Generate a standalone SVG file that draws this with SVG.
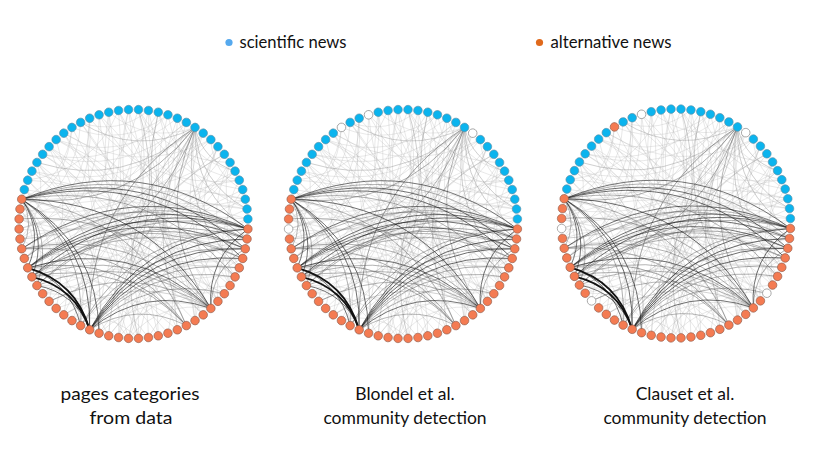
<svg xmlns="http://www.w3.org/2000/svg" xmlns:xlink="http://www.w3.org/1999/xlink" width="828" height="466" viewBox="0 0 828 466">
<style>
.b{fill:#0bb4ee;stroke:#5d8fa6;stroke-width:.6}
.o{fill:#f47b52;stroke:#8e5c4c;stroke-width:.6}
.w{fill:#fff;stroke:#9a9a9a;stroke-width:.8}
text{font-family:Lato,"Liberation Sans",sans-serif;fill:#111}
.lg{font-size:16.5px}
.lb{font-size:17.5px;text-anchor:middle}
</style>
<defs>
<path id="i5" d="M111.79-24.78Q97.91 0 111.79 24.78"/>
<path id="i6" d="M110.6-29.63Q94.01 0 110.6 29.63"/>
<path id="i7" d="M109.2-34.43Q89.92 0 109.2 34.43"/>
<path id="i8" d="M107.59-39.16Q85.66 0 107.59 39.16"/>
<path id="i9" d="M105.78-43.82Q81.24 0 105.78 43.82"/>
<path id="i10" d="M103.77-48.39Q76.67 0 103.77 48.39"/>
<path id="i11" d="M101.56-52.87Q71.95 0 101.56 52.87"/>
<path id="i12" d="M99.16-57.25Q67.1 0 99.16 57.25"/>
<path id="i13" d="M96.57-61.52Q62.12 0 96.57 61.52"/>
<path id="i14" d="M93.79-65.67Q57.01 0 93.79 65.67"/>
<path id="i15" d="M90.84-69.7Q51.81 0 90.84 69.7"/>
<path id="i16" d="M87.71-73.6Q46.49 0 87.71 73.6"/>
<path id="i17" d="M84.42-77.36Q41.1 0 84.42 77.36"/>
<path id="i18" d="M80.96-80.96Q35.62 0 80.96 80.96"/>
<path id="i19" d="M77.36-84.42Q30.08 0 77.36 84.42"/>
<path id="i20" d="M73.6-87.71Q24.48 0 73.6 87.71"/>
<path id="i21" d="M69.7-90.84Q18.83 0 69.7 90.84"/>
<path id="i22" d="M65.67-93.79Q13.15 0 65.67 93.79"/>
<path id="i23" d="M61.52-96.57Q7.44 0 61.52 96.57"/>
<path id="i24" d="M57.25-99.16Q1.72 0 57.25 99.16"/>
<path id="i25" d="M52.87-101.56Q-4 0 52.87 101.56"/>
<path id="i26" d="M48.39-103.77Q-9.72 0 48.39 103.77"/>
<path id="i27" d="M43.82-105.78Q-15.42 0 43.82 105.78"/>
<path id="i28" d="M39.16-107.59Q-21.09 0 39.16 107.59"/>
<path id="i29" d="M34.43-109.2Q-26.72 0 34.43 109.2"/>
<path id="i30" d="M29.63-110.6Q-32.31 0 29.63 110.6"/>
<path id="i31" d="M24.78-111.79Q-37.82 0 24.78 111.79"/>
<path id="i32" d="M19.88-112.76Q-43.27 0 19.88 112.76"/>
<path id="i33" d="M14.95-113.52Q-48.62 0 14.95 113.52"/>
<path id="i34" d="M9.98-114.06Q-53.89 0 9.98 114.06"/>
<path id="i35" d="M4.99-114.39Q-59.07 0 4.99 114.39"/>
<path id="i36" d="M0-114.5Q-64.12 0 0 114.5"/>
<path id="o34" d="M9.98-114.06Q73.85 0 9.98 114.06"/>
<path id="o35" d="M4.99-114.39Q69.05 0 4.99 114.39"/>
<g id="E" fill="none">
<g stroke="#b0b0b0" stroke-opacity=".38" stroke-width=".7">
<use href="#i8" transform="rotate(22.5)"/><use href="#i21" transform="rotate(60)"/><use href="#i34" transform="rotate(97.5)"/><use href="#i18" transform="rotate(62.5)"/><use href="#i31" transform="rotate(100)"/><use href="#i15" transform="rotate(65)"/><use href="#i28" transform="rotate(102.5)"/><use href="#i12" transform="rotate(67.5)"/><use href="#i25" transform="rotate(105)"/><use href="#i9" transform="rotate(70)"/><use href="#i22" transform="rotate(107.5)"/><use href="#i35" transform="rotate(145)"/><use href="#i19" transform="rotate(110)"/><use href="#i32" transform="rotate(147.5)"/><use href="#i16" transform="rotate(112.5)"/><use href="#i29" transform="rotate(150)"/><use href="#i13" transform="rotate(115)"/><use href="#i26" transform="rotate(152.5)"/><use href="#i10" transform="rotate(117.5)"/><use href="#i23" transform="rotate(155)"/><use href="#i36" transform="rotate(192.5)"/><use href="#i20" transform="rotate(157.5)"/><use href="#i33" transform="rotate(195)"/><use href="#i17" transform="rotate(160)"/><use href="#i30" transform="rotate(197.5)"/><use href="#i14" transform="rotate(162.5)"/><use href="#i27" transform="rotate(200)"/><use href="#i11" transform="rotate(165)"/><use href="#i24" transform="rotate(202.5)"/><use href="#i8" transform="rotate(167.5)"/><use href="#i21" transform="rotate(205)"/><use href="#i34" transform="rotate(242.5)"/><use href="#i18" transform="rotate(207.5)"/><use href="#i31" transform="rotate(245)"/><use href="#i15" transform="rotate(210)"/><use href="#i28" transform="rotate(247.5)"/><use href="#i12" transform="rotate(212.5)"/><use href="#i25" transform="rotate(250)"/><use href="#i9" transform="rotate(215)"/><use href="#i22" transform="rotate(252.5)"/><use href="#i35" transform="rotate(290)"/><use href="#i19" transform="rotate(255)"/><use href="#i32" transform="rotate(292.5)"/><use href="#i16" transform="rotate(257.5)"/><use href="#i29" transform="rotate(295)"/><use href="#i13" transform="rotate(260)"/><use href="#i26" transform="rotate(297.5)"/><use href="#i10" transform="rotate(262.5)"/><use href="#i23" transform="rotate(300)"/><use href="#i36" transform="rotate(337.5)"/><use href="#i20" transform="rotate(302.5)"/><use href="#i33" transform="rotate(340)"/><use href="#i17" transform="rotate(305)"/><use href="#i30" transform="rotate(342.5)"/><use href="#i14" transform="rotate(307.5)"/><use href="#i27" transform="rotate(345)"/><use href="#i11" transform="rotate(310)"/><use href="#i24" transform="rotate(347.5)"/><use href="#i8" transform="rotate(312.5)"/><use href="#i21" transform="rotate(350)"/><use href="#i34" transform="rotate(27.5)"/><use href="#i18" transform="rotate(352.5)"/><use href="#i31" transform="rotate(30)"/><use href="#i15" transform="rotate(355)"/><use href="#i28" transform="rotate(32.5)"/><use href="#i12" transform="rotate(357.5)"/><use href="#i25" transform="rotate(35)"/><use href="#i9" transform="rotate(0)"/><use href="#i22" transform="rotate(37.5)"/><use href="#i35" transform="rotate(75)"/><use href="#i19" transform="rotate(40)"/><use href="#i32" transform="rotate(77.5)"/>
<use href="#i6" transform="rotate(17.5)"/><use href="#i17" transform="rotate(50)"/><use href="#i28" transform="rotate(82.5)"/><use href="#i8" transform="rotate(37.5)"/><use href="#i19" transform="rotate(70)"/><use href="#i30" transform="rotate(102.5)"/><use href="#i10" transform="rotate(57.5)"/><use href="#i21" transform="rotate(90)"/><use href="#i32" transform="rotate(122.5)"/><use href="#i12" transform="rotate(77.5)"/><use href="#i23" transform="rotate(110)"/><use href="#i34" transform="rotate(142.5)"/><use href="#i14" transform="rotate(97.5)"/><use href="#i25" transform="rotate(130)"/><use href="#i36" transform="rotate(162.5)"/><use href="#i16" transform="rotate(117.5)"/><use href="#i27" transform="rotate(150)"/><use href="#i7" transform="rotate(105)"/><use href="#i18" transform="rotate(137.5)"/><use href="#i29" transform="rotate(170)"/><use href="#i9" transform="rotate(125)"/><use href="#i20" transform="rotate(157.5)"/><use href="#i31" transform="rotate(190)"/><use href="#i11" transform="rotate(145)"/><use href="#i22" transform="rotate(177.5)"/><use href="#i33" transform="rotate(210)"/><use href="#i13" transform="rotate(165)"/><use href="#i24" transform="rotate(197.5)"/><use href="#i35" transform="rotate(230)"/><use href="#i15" transform="rotate(185)"/><use href="#i26" transform="rotate(217.5)"/><use href="#i6" transform="rotate(172.5)"/><use href="#i17" transform="rotate(205)"/><use href="#i28" transform="rotate(237.5)"/><use href="#i8" transform="rotate(192.5)"/><use href="#i19" transform="rotate(225)"/><use href="#i30" transform="rotate(257.5)"/><use href="#i10" transform="rotate(212.5)"/><use href="#i21" transform="rotate(245)"/><use href="#i32" transform="rotate(277.5)"/><use href="#i12" transform="rotate(232.5)"/><use href="#i23" transform="rotate(265)"/><use href="#i34" transform="rotate(297.5)"/><use href="#i14" transform="rotate(252.5)"/><use href="#i25" transform="rotate(285)"/><use href="#i36" transform="rotate(317.5)"/><use href="#i16" transform="rotate(272.5)"/><use href="#i27" transform="rotate(305)"/><use href="#i7" transform="rotate(260)"/><use href="#i18" transform="rotate(292.5)"/><use href="#i29" transform="rotate(325)"/><use href="#i9" transform="rotate(280)"/><use href="#i20" transform="rotate(312.5)"/><use href="#i31" transform="rotate(345)"/><use href="#i11" transform="rotate(300)"/><use href="#i22" transform="rotate(332.5)"/><use href="#i33" transform="rotate(5)"/><use href="#i13" transform="rotate(320)"/><use href="#i24" transform="rotate(352.5)"/><use href="#i35" transform="rotate(25)"/><use href="#i15" transform="rotate(340)"/><use href="#i26" transform="rotate(12.5)"/><use href="#i6" transform="rotate(327.5)"/><use href="#i17" transform="rotate(0)"/><use href="#i28" transform="rotate(32.5)"/><use href="#i8" transform="rotate(347.5)"/><use href="#i19" transform="rotate(20)"/><use href="#i30" transform="rotate(52.5)"/><use href="#i10" transform="rotate(7.5)"/><use href="#i21" transform="rotate(40)"/><use href="#i32" transform="rotate(72.5)"/><use href="#i12" transform="rotate(27.5)"/>
</g>
<g stroke="#8a8a8a" stroke-opacity=".5" stroke-width=".75">
<use href="#i16" transform="rotate(87.5)"/><use href="#i25" transform="rotate(345)"/><use href="#i24" transform="rotate(2.5)"/><use href="#i12" transform="rotate(332.5)"/><use href="#i32" transform="rotate(192.5)"/><use href="#i33" transform="rotate(220)"/><use href="#i29" transform="rotate(15)"/><use href="#i16" transform="rotate(342.5)"/><use href="#i26" transform="rotate(237.5)"/><use href="#i18" transform="rotate(257.5)"/><use href="#i12" transform="rotate(272.5)"/><use href="#i6" transform="rotate(317.5)"/><use href="#i10" transform="rotate(327.5)"/>
</g>
<g stroke="#555" stroke-opacity=".55" stroke-width=".75">
<use href="#o35" transform="rotate(280)"/><use href="#i26" transform="rotate(127.5)"/><use href="#i15" transform="rotate(155)"/><use href="#i9" transform="rotate(170)"/><use href="#i5" transform="rotate(180)"/><use href="#i22" transform="rotate(247.5)"/><use href="#i33" transform="rotate(110)"/><use href="#i28" transform="rotate(87.5)"/><use href="#i19" transform="rotate(110)"/><use href="#i28" transform="rotate(82.5)"/><use href="#i21" transform="rotate(100)"/><use href="#i29" transform="rotate(230)"/><use href="#i32" transform="rotate(82.5)"/><use href="#i32" transform="rotate(87.5)"/><use href="#i18" transform="rotate(67.5)"/><use href="#i10" transform="rotate(87.5)"/><use href="#i23" transform="rotate(60)"/><use href="#i21" transform="rotate(65)"/><use href="#i34" transform="rotate(27.5)"/><use href="#i17" transform="rotate(70)"/><use href="#i15" transform="rotate(75)"/><use href="#i7" transform="rotate(30)"/><use href="#i21" transform="rotate(355)"/><use href="#i20" transform="rotate(97.5)"/><use href="#i24" transform="rotate(107.5)"/><use href="#i18" transform="rotate(92.5)"/><use href="#i27" transform="rotate(115)"/><use href="#i18" transform="rotate(107.5)"/><use href="#i21" transform="rotate(115)"/><use href="#i29" transform="rotate(75)"/><use href="#i28" transform="rotate(77.5)"/><use href="#i27" transform="rotate(85)"/>
</g>
<g stroke="#1e1e1e" stroke-opacity=".68" stroke-width=".85">
<use href="#o34" transform="rotate(277.5)"/><use href="#i36" transform="rotate(102.5)"/><use href="#i35" transform="rotate(105)"/><use href="#i29" transform="rotate(120)"/><use href="#i16" transform="rotate(152.5)"/><use href="#i17" transform="rotate(150)"/><use href="#i7" transform="rotate(175)"/><use href="#i8" transform="rotate(172.5)"/><use href="#i7" transform="rotate(130)"/><use href="#i8" transform="rotate(137.5)"/><use href="#i31" transform="rotate(80)"/><use href="#i30" transform="rotate(82.5)"/><use href="#i29" transform="rotate(85)"/><use href="#i22" transform="rotate(102.5)"/><use href="#i30" transform="rotate(77.5)"/><use href="#i22" transform="rotate(57.5)"/><use href="#i21" transform="rotate(60)"/><use href="#i20" transform="rotate(62.5)"/><use href="#i19" transform="rotate(65)"/><use href="#i13" transform="rotate(80)"/><use href="#i9" transform="rotate(25)"/><use href="#i33" transform="rotate(85)"/>
</g>
<g stroke="#111" stroke-width="1.8">
<use href="#i9" transform="rotate(135)"/><use href="#i8" transform="rotate(132.5)"/>
</g>
</g>
</defs>
<rect width="828" height="466" fill="#fff"/>
<g id="legend">
<g id="legend-scientific"><circle cx="229" cy="42.5" r="3.6" fill="#55a9ee"/><text class="lg" x="239.5" y="47.5" textLength="107" lengthAdjust="spacingAndGlyphs">scientific news</text></g>
<g id="legend-alternative"><circle cx="539.5" cy="42.5" r="3.6" fill="#e0691c"/><text class="lg" x="550.5" y="47.5" textLength="121" lengthAdjust="spacingAndGlyphs">alternative news</text></g>
</g>
<g id="panel-1" transform="translate(133.5,224)">
<g id="connectors-1"><use href="#E"/></g>
<g id="nodes-1">
<g id="p1n0" transform="rotate(2.5)"><circle class="o" cx="114.5" r="4.3"/></g>
<g id="p1n1" transform="rotate(7.5)"><circle class="o" cx="114.5" r="4.3"/></g>
<g id="p1n2" transform="rotate(12.5)"><circle class="o" cx="114.5" r="4.3"/></g>
<g id="p1n3" transform="rotate(17.5)"><circle class="o" cx="114.5" r="4.3"/></g>
<g id="p1n4" transform="rotate(22.5)"><circle class="o" cx="114.5" r="4.3"/></g>
<g id="p1n5" transform="rotate(27.5)"><circle class="o" cx="114.5" r="4.3"/></g>
<g id="p1n6" transform="rotate(32.5)"><circle class="o" cx="114.5" r="4.3"/></g>
<g id="p1n7" transform="rotate(37.5)"><circle class="o" cx="114.5" r="4.3"/></g>
<g id="p1n8" transform="rotate(42.5)"><circle class="o" cx="114.5" r="4.3"/></g>
<g id="p1n9" transform="rotate(47.5)"><circle class="o" cx="114.5" r="4.3"/></g>
<g id="p1n10" transform="rotate(52.5)"><circle class="o" cx="114.5" r="4.3"/></g>
<g id="p1n11" transform="rotate(57.5)"><circle class="o" cx="114.5" r="4.3"/></g>
<g id="p1n12" transform="rotate(62.5)"><circle class="o" cx="114.5" r="4.3"/></g>
<g id="p1n13" transform="rotate(67.5)"><circle class="o" cx="114.5" r="4.3"/></g>
<g id="p1n14" transform="rotate(72.5)"><circle class="o" cx="114.5" r="4.3"/></g>
<g id="p1n15" transform="rotate(77.5)"><circle class="o" cx="114.5" r="4.3"/></g>
<g id="p1n16" transform="rotate(82.5)"><circle class="o" cx="114.5" r="4.3"/></g>
<g id="p1n17" transform="rotate(87.5)"><circle class="o" cx="114.5" r="4.3"/></g>
<g id="p1n18" transform="rotate(92.5)"><circle class="o" cx="114.5" r="4.3"/></g>
<g id="p1n19" transform="rotate(97.5)"><circle class="o" cx="114.5" r="4.3"/></g>
<g id="p1n20" transform="rotate(102.5)"><circle class="o" cx="114.5" r="4.3"/></g>
<g id="p1n21" transform="rotate(107.5)"><circle class="o" cx="114.5" r="4.3"/></g>
<g id="p1n22" transform="rotate(112.5)"><circle class="o" cx="114.5" r="4.3"/></g>
<g id="p1n23" transform="rotate(117.5)"><circle class="o" cx="114.5" r="4.3"/></g>
<g id="p1n24" transform="rotate(122.5)"><circle class="o" cx="114.5" r="4.3"/></g>
<g id="p1n25" transform="rotate(127.5)"><circle class="o" cx="114.5" r="4.3"/></g>
<g id="p1n26" transform="rotate(132.5)"><circle class="o" cx="114.5" r="4.3"/></g>
<g id="p1n27" transform="rotate(137.5)"><circle class="o" cx="114.5" r="4.3"/></g>
<g id="p1n28" transform="rotate(142.5)"><circle class="o" cx="114.5" r="4.3"/></g>
<g id="p1n29" transform="rotate(147.5)"><circle class="o" cx="114.5" r="4.3"/></g>
<g id="p1n30" transform="rotate(152.5)"><circle class="o" cx="114.5" r="4.3"/></g>
<g id="p1n31" transform="rotate(157.5)"><circle class="o" cx="114.5" r="4.3"/></g>
<g id="p1n32" transform="rotate(162.5)"><circle class="o" cx="114.5" r="4.3"/></g>
<g id="p1n33" transform="rotate(167.5)"><circle class="o" cx="114.5" r="4.3"/></g>
<g id="p1n34" transform="rotate(172.5)"><circle class="o" cx="114.5" r="4.3"/></g>
<g id="p1n35" transform="rotate(177.5)"><circle class="o" cx="114.5" r="4.3"/></g>
<g id="p1n36" transform="rotate(182.5)"><circle class="o" cx="114.5" r="4.3"/></g>
<g id="p1n37" transform="rotate(187.5)"><circle class="o" cx="114.5" r="4.3"/></g>
<g id="p1n38" transform="rotate(192.5)"><circle class="o" cx="114.5" r="4.3"/></g>
<g id="p1n39" transform="rotate(197.5)"><circle class="b" cx="114.5" r="4.3"/></g>
<g id="p1n40" transform="rotate(202.5)"><circle class="b" cx="114.5" r="4.3"/></g>
<g id="p1n41" transform="rotate(207.5)"><circle class="b" cx="114.5" r="4.3"/></g>
<g id="p1n42" transform="rotate(212.5)"><circle class="b" cx="114.5" r="4.3"/></g>
<g id="p1n43" transform="rotate(217.5)"><circle class="b" cx="114.5" r="4.3"/></g>
<g id="p1n44" transform="rotate(222.5)"><circle class="b" cx="114.5" r="4.3"/></g>
<g id="p1n45" transform="rotate(227.5)"><circle class="b" cx="114.5" r="4.3"/></g>
<g id="p1n46" transform="rotate(232.5)"><circle class="b" cx="114.5" r="4.3"/></g>
<g id="p1n47" transform="rotate(237.5)"><circle class="b" cx="114.5" r="4.3"/></g>
<g id="p1n48" transform="rotate(242.5)"><circle class="b" cx="114.5" r="4.3"/></g>
<g id="p1n49" transform="rotate(247.5)"><circle class="b" cx="114.5" r="4.3"/></g>
<g id="p1n50" transform="rotate(252.5)"><circle class="b" cx="114.5" r="4.3"/></g>
<g id="p1n51" transform="rotate(257.5)"><circle class="b" cx="114.5" r="4.3"/></g>
<g id="p1n52" transform="rotate(262.5)"><circle class="b" cx="114.5" r="4.3"/></g>
<g id="p1n53" transform="rotate(267.5)"><circle class="b" cx="114.5" r="4.3"/></g>
<g id="p1n54" transform="rotate(272.5)"><circle class="b" cx="114.5" r="4.3"/></g>
<g id="p1n55" transform="rotate(277.5)"><circle class="b" cx="114.5" r="4.3"/></g>
<g id="p1n56" transform="rotate(282.5)"><circle class="b" cx="114.5" r="4.3"/></g>
<g id="p1n57" transform="rotate(287.5)"><circle class="b" cx="114.5" r="4.3"/></g>
<g id="p1n58" transform="rotate(292.5)"><circle class="b" cx="114.5" r="4.3"/></g>
<g id="p1n59" transform="rotate(297.5)"><circle class="b" cx="114.5" r="4.3"/></g>
<g id="p1n60" transform="rotate(302.5)"><circle class="b" cx="114.5" r="4.3"/></g>
<g id="p1n61" transform="rotate(307.5)"><circle class="b" cx="114.5" r="4.3"/></g>
<g id="p1n62" transform="rotate(312.5)"><circle class="b" cx="114.5" r="4.3"/></g>
<g id="p1n63" transform="rotate(317.5)"><circle class="b" cx="114.5" r="4.3"/></g>
<g id="p1n64" transform="rotate(322.5)"><circle class="b" cx="114.5" r="4.3"/></g>
<g id="p1n65" transform="rotate(327.5)"><circle class="b" cx="114.5" r="4.3"/></g>
<g id="p1n66" transform="rotate(332.5)"><circle class="b" cx="114.5" r="4.3"/></g>
<g id="p1n67" transform="rotate(337.5)"><circle class="b" cx="114.5" r="4.3"/></g>
<g id="p1n68" transform="rotate(342.5)"><circle class="b" cx="114.5" r="4.3"/></g>
<g id="p1n69" transform="rotate(347.5)"><circle class="b" cx="114.5" r="4.3"/></g>
<g id="p1n70" transform="rotate(352.5)"><circle class="b" cx="114.5" r="4.3"/></g>
<g id="p1n71" transform="rotate(357.5)"><circle class="b" cx="114.5" r="4.3"/></g>
</g>
</g>
<g id="panel-2" transform="translate(403,224)">
<g id="connectors-2"><use href="#E"/></g>
<g id="nodes-2">
<g id="p2n0" transform="rotate(2.5)"><circle class="o" cx="114.5" r="4.3"/></g>
<g id="p2n1" transform="rotate(7.5)"><circle class="o" cx="114.5" r="4.3"/></g>
<g id="p2n2" transform="rotate(12.5)"><circle class="o" cx="114.5" r="4.3"/></g>
<g id="p2n3" transform="rotate(17.5)"><circle class="o" cx="114.5" r="4.3"/></g>
<g id="p2n4" transform="rotate(22.5)"><circle class="o" cx="114.5" r="4.3"/></g>
<g id="p2n5" transform="rotate(27.5)"><circle class="o" cx="114.5" r="4.3"/></g>
<g id="p2n6" transform="rotate(32.5)"><circle class="o" cx="114.5" r="4.3"/></g>
<g id="p2n7" transform="rotate(37.5)"><circle class="o" cx="114.5" r="4.3"/></g>
<g id="p2n8" transform="rotate(42.5)"><circle class="o" cx="114.5" r="4.3"/></g>
<g id="p2n9" transform="rotate(47.5)"><circle class="o" cx="114.5" r="4.3"/></g>
<g id="p2n10" transform="rotate(52.5)"><circle class="o" cx="114.5" r="4.3"/></g>
<g id="p2n11" transform="rotate(57.5)"><circle class="o" cx="114.5" r="4.3"/></g>
<g id="p2n12" transform="rotate(62.5)"><circle class="o" cx="114.5" r="4.3"/></g>
<g id="p2n13" transform="rotate(67.5)"><circle class="o" cx="114.5" r="4.3"/></g>
<g id="p2n14" transform="rotate(72.5)"><circle class="o" cx="114.5" r="4.3"/></g>
<g id="p2n15" transform="rotate(77.5)"><circle class="o" cx="114.5" r="4.3"/></g>
<g id="p2n16" transform="rotate(82.5)"><circle class="o" cx="114.5" r="4.3"/></g>
<g id="p2n17" transform="rotate(87.5)"><circle class="o" cx="114.5" r="4.3"/></g>
<g id="p2n18" transform="rotate(92.5)"><circle class="o" cx="114.5" r="4.3"/></g>
<g id="p2n19" transform="rotate(97.5)"><circle class="o" cx="114.5" r="4.3"/></g>
<g id="p2n20" transform="rotate(102.5)"><circle class="o" cx="114.5" r="4.3"/></g>
<g id="p2n21" transform="rotate(107.5)"><circle class="o" cx="114.5" r="4.3"/></g>
<g id="p2n22" transform="rotate(112.5)"><circle class="o" cx="114.5" r="4.3"/></g>
<g id="p2n23" transform="rotate(117.5)"><circle class="o" cx="114.5" r="4.3"/></g>
<g id="p2n24" transform="rotate(122.5)"><circle class="o" cx="114.5" r="4.3"/></g>
<g id="p2n25" transform="rotate(127.5)"><circle class="o" cx="114.5" r="4.3"/></g>
<g id="p2n26" transform="rotate(132.5)"><circle class="o" cx="114.5" r="4.3"/></g>
<g id="p2n27" transform="rotate(137.5)"><circle class="o" cx="114.5" r="4.3"/></g>
<g id="p2n28" transform="rotate(142.5)"><circle class="o" cx="114.5" r="4.3"/></g>
<g id="p2n29" transform="rotate(147.5)"><circle class="o" cx="114.5" r="4.3"/></g>
<g id="p2n30" transform="rotate(152.5)"><circle class="o" cx="114.5" r="4.3"/></g>
<g id="p2n31" transform="rotate(157.5)"><circle class="o" cx="114.5" r="4.3"/></g>
<g id="p2n32" transform="rotate(162.5)"><circle class="o" cx="114.5" r="4.3"/></g>
<g id="p2n33" transform="rotate(167.5)"><circle class="o" cx="114.5" r="4.3"/></g>
<g id="p2n34" transform="rotate(172.5)"><circle class="o" cx="114.5" r="4.3"/></g>
<g id="p2n35" transform="rotate(177.5)"><circle class="w" cx="114.5" r="4.3"/></g>
<g id="p2n36" transform="rotate(182.5)"><circle class="o" cx="114.5" r="4.3"/></g>
<g id="p2n37" transform="rotate(187.5)"><circle class="o" cx="114.5" r="4.3"/></g>
<g id="p2n38" transform="rotate(192.5)"><circle class="o" cx="114.5" r="4.3"/></g>
<g id="p2n39" transform="rotate(197.5)"><circle class="b" cx="114.5" r="4.3"/></g>
<g id="p2n40" transform="rotate(202.5)"><circle class="b" cx="114.5" r="4.3"/></g>
<g id="p2n41" transform="rotate(207.5)"><circle class="b" cx="114.5" r="4.3"/></g>
<g id="p2n42" transform="rotate(212.5)"><circle class="b" cx="114.5" r="4.3"/></g>
<g id="p2n43" transform="rotate(217.5)"><circle class="b" cx="114.5" r="4.3"/></g>
<g id="p2n44" transform="rotate(222.5)"><circle class="b" cx="114.5" r="4.3"/></g>
<g id="p2n45" transform="rotate(227.5)"><circle class="b" cx="114.5" r="4.3"/></g>
<g id="p2n46" transform="rotate(232.5)"><circle class="b" cx="114.5" r="4.3"/></g>
<g id="p2n47" transform="rotate(237.5)"><circle class="w" cx="114.5" r="4.3"/></g>
<g id="p2n48" transform="rotate(242.5)"><circle class="b" cx="114.5" r="4.3"/></g>
<g id="p2n49" transform="rotate(247.5)"><circle class="b" cx="114.5" r="4.3"/></g>
<g id="p2n50" transform="rotate(252.5)"><circle class="w" cx="114.5" r="4.3"/></g>
<g id="p2n51" transform="rotate(257.5)"><circle class="b" cx="114.5" r="4.3"/></g>
<g id="p2n52" transform="rotate(262.5)"><circle class="b" cx="114.5" r="4.3"/></g>
<g id="p2n53" transform="rotate(267.5)"><circle class="b" cx="114.5" r="4.3"/></g>
<g id="p2n54" transform="rotate(272.5)"><circle class="b" cx="114.5" r="4.3"/></g>
<g id="p2n55" transform="rotate(277.5)"><circle class="b" cx="114.5" r="4.3"/></g>
<g id="p2n56" transform="rotate(282.5)"><circle class="b" cx="114.5" r="4.3"/></g>
<g id="p2n57" transform="rotate(287.5)"><circle class="b" cx="114.5" r="4.3"/></g>
<g id="p2n58" transform="rotate(292.5)"><circle class="b" cx="114.5" r="4.3"/></g>
<g id="p2n59" transform="rotate(297.5)"><circle class="b" cx="114.5" r="4.3"/></g>
<g id="p2n60" transform="rotate(302.5)"><circle class="b" cx="114.5" r="4.3"/></g>
<g id="p2n61" transform="rotate(307.5)"><circle class="w" cx="114.5" r="4.3"/></g>
<g id="p2n62" transform="rotate(312.5)"><circle class="b" cx="114.5" r="4.3"/></g>
<g id="p2n63" transform="rotate(317.5)"><circle class="b" cx="114.5" r="4.3"/></g>
<g id="p2n64" transform="rotate(322.5)"><circle class="b" cx="114.5" r="4.3"/></g>
<g id="p2n65" transform="rotate(327.5)"><circle class="b" cx="114.5" r="4.3"/></g>
<g id="p2n66" transform="rotate(332.5)"><circle class="b" cx="114.5" r="4.3"/></g>
<g id="p2n67" transform="rotate(337.5)"><circle class="b" cx="114.5" r="4.3"/></g>
<g id="p2n68" transform="rotate(342.5)"><circle class="b" cx="114.5" r="4.3"/></g>
<g id="p2n69" transform="rotate(347.5)"><circle class="b" cx="114.5" r="4.3"/></g>
<g id="p2n70" transform="rotate(352.5)"><circle class="b" cx="114.5" r="4.3"/></g>
<g id="p2n71" transform="rotate(357.5)"><circle class="b" cx="114.5" r="4.3"/></g>
</g>
</g>
<g id="panel-3" transform="translate(676,223.5)">
<g id="connectors-3"><use href="#E"/></g>
<g id="nodes-3">
<g id="p3n0" transform="rotate(2.5)"><circle class="o" cx="114.5" r="4.3"/></g>
<g id="p3n1" transform="rotate(7.5)"><circle class="o" cx="114.5" r="4.3"/></g>
<g id="p3n2" transform="rotate(12.5)"><circle class="o" cx="114.5" r="4.3"/></g>
<g id="p3n3" transform="rotate(17.5)"><circle class="o" cx="114.5" r="4.3"/></g>
<g id="p3n4" transform="rotate(22.5)"><circle class="o" cx="114.5" r="4.3"/></g>
<g id="p3n5" transform="rotate(27.5)"><circle class="o" cx="114.5" r="4.3"/></g>
<g id="p3n6" transform="rotate(32.5)"><circle class="o" cx="114.5" r="4.3"/></g>
<g id="p3n7" transform="rotate(37.5)"><circle class="w" cx="114.5" r="4.3"/></g>
<g id="p3n8" transform="rotate(42.5)"><circle class="o" cx="114.5" r="4.3"/></g>
<g id="p3n9" transform="rotate(47.5)"><circle class="o" cx="114.5" r="4.3"/></g>
<g id="p3n10" transform="rotate(52.5)"><circle class="o" cx="114.5" r="4.3"/></g>
<g id="p3n11" transform="rotate(57.5)"><circle class="o" cx="114.5" r="4.3"/></g>
<g id="p3n12" transform="rotate(62.5)"><circle class="o" cx="114.5" r="4.3"/></g>
<g id="p3n13" transform="rotate(67.5)"><circle class="o" cx="114.5" r="4.3"/></g>
<g id="p3n14" transform="rotate(72.5)"><circle class="o" cx="114.5" r="4.3"/></g>
<g id="p3n15" transform="rotate(77.5)"><circle class="o" cx="114.5" r="4.3"/></g>
<g id="p3n16" transform="rotate(82.5)"><circle class="o" cx="114.5" r="4.3"/></g>
<g id="p3n17" transform="rotate(87.5)"><circle class="o" cx="114.5" r="4.3"/></g>
<g id="p3n18" transform="rotate(92.5)"><circle class="o" cx="114.5" r="4.3"/></g>
<g id="p3n19" transform="rotate(97.5)"><circle class="o" cx="114.5" r="4.3"/></g>
<g id="p3n20" transform="rotate(102.5)"><circle class="o" cx="114.5" r="4.3"/></g>
<g id="p3n21" transform="rotate(107.5)"><circle class="o" cx="114.5" r="4.3"/></g>
<g id="p3n22" transform="rotate(112.5)"><circle class="o" cx="114.5" r="4.3"/></g>
<g id="p3n23" transform="rotate(117.5)"><circle class="o" cx="114.5" r="4.3"/></g>
<g id="p3n24" transform="rotate(122.5)"><circle class="o" cx="114.5" r="4.3"/></g>
<g id="p3n25" transform="rotate(127.5)"><circle class="o" cx="114.5" r="4.3"/></g>
<g id="p3n26" transform="rotate(132.5)"><circle class="o" cx="114.5" r="4.3"/></g>
<g id="p3n27" transform="rotate(137.5)"><circle class="w" cx="114.5" r="4.3"/></g>
<g id="p3n28" transform="rotate(142.5)"><circle class="o" cx="114.5" r="4.3"/></g>
<g id="p3n29" transform="rotate(147.5)"><circle class="o" cx="114.5" r="4.3"/></g>
<g id="p3n30" transform="rotate(152.5)"><circle class="o" cx="114.5" r="4.3"/></g>
<g id="p3n31" transform="rotate(157.5)"><circle class="o" cx="114.5" r="4.3"/></g>
<g id="p3n32" transform="rotate(162.5)"><circle class="o" cx="114.5" r="4.3"/></g>
<g id="p3n33" transform="rotate(167.5)"><circle class="o" cx="114.5" r="4.3"/></g>
<g id="p3n34" transform="rotate(172.5)"><circle class="o" cx="114.5" r="4.3"/></g>
<g id="p3n35" transform="rotate(177.5)"><circle class="w" cx="114.5" r="4.3"/></g>
<g id="p3n36" transform="rotate(182.5)"><circle class="o" cx="114.5" r="4.3"/></g>
<g id="p3n37" transform="rotate(187.5)"><circle class="o" cx="114.5" r="4.3"/></g>
<g id="p3n38" transform="rotate(192.5)"><circle class="o" cx="114.5" r="4.3"/></g>
<g id="p3n39" transform="rotate(197.5)"><circle class="b" cx="114.5" r="4.3"/></g>
<g id="p3n40" transform="rotate(202.5)"><circle class="b" cx="114.5" r="4.3"/></g>
<g id="p3n41" transform="rotate(207.5)"><circle class="b" cx="114.5" r="4.3"/></g>
<g id="p3n42" transform="rotate(212.5)"><circle class="b" cx="114.5" r="4.3"/></g>
<g id="p3n43" transform="rotate(217.5)"><circle class="b" cx="114.5" r="4.3"/></g>
<g id="p3n44" transform="rotate(222.5)"><circle class="b" cx="114.5" r="4.3"/></g>
<g id="p3n45" transform="rotate(227.5)"><circle class="b" cx="114.5" r="4.3"/></g>
<g id="p3n46" transform="rotate(232.5)"><circle class="b" cx="114.5" r="4.3"/></g>
<g id="p3n47" transform="rotate(237.5)"><circle class="o" cx="114.5" r="4.3"/></g>
<g id="p3n48" transform="rotate(242.5)"><circle class="b" cx="114.5" r="4.3"/></g>
<g id="p3n49" transform="rotate(247.5)"><circle class="b" cx="114.5" r="4.3"/></g>
<g id="p3n50" transform="rotate(252.5)"><circle class="w" cx="114.5" r="4.3"/></g>
<g id="p3n51" transform="rotate(257.5)"><circle class="b" cx="114.5" r="4.3"/></g>
<g id="p3n52" transform="rotate(262.5)"><circle class="b" cx="114.5" r="4.3"/></g>
<g id="p3n53" transform="rotate(267.5)"><circle class="b" cx="114.5" r="4.3"/></g>
<g id="p3n54" transform="rotate(272.5)"><circle class="b" cx="114.5" r="4.3"/></g>
<g id="p3n55" transform="rotate(277.5)"><circle class="b" cx="114.5" r="4.3"/></g>
<g id="p3n56" transform="rotate(282.5)"><circle class="b" cx="114.5" r="4.3"/></g>
<g id="p3n57" transform="rotate(287.5)"><circle class="b" cx="114.5" r="4.3"/></g>
<g id="p3n58" transform="rotate(292.5)"><circle class="b" cx="114.5" r="4.3"/></g>
<g id="p3n59" transform="rotate(297.5)"><circle class="b" cx="114.5" r="4.3"/></g>
<g id="p3n60" transform="rotate(302.5)"><circle class="b" cx="114.5" r="4.3"/></g>
<g id="p3n61" transform="rotate(307.5)"><circle class="w" cx="114.5" r="4.3"/></g>
<g id="p3n62" transform="rotate(312.5)"><circle class="b" cx="114.5" r="4.3"/></g>
<g id="p3n63" transform="rotate(317.5)"><circle class="b" cx="114.5" r="4.3"/></g>
<g id="p3n64" transform="rotate(322.5)"><circle class="b" cx="114.5" r="4.3"/></g>
<g id="p3n65" transform="rotate(327.5)"><circle class="b" cx="114.5" r="4.3"/></g>
<g id="p3n66" transform="rotate(332.5)"><circle class="b" cx="114.5" r="4.3"/></g>
<g id="p3n67" transform="rotate(337.5)"><circle class="b" cx="114.5" r="4.3"/></g>
<g id="p3n68" transform="rotate(342.5)"><circle class="b" cx="114.5" r="4.3"/></g>
<g id="p3n69" transform="rotate(347.5)"><circle class="b" cx="114.5" r="4.3"/></g>
<g id="p3n70" transform="rotate(352.5)"><circle class="b" cx="114.5" r="4.3"/></g>
<g id="p3n71" transform="rotate(357.5)"><circle class="b" cx="114.5" r="4.3"/></g>
</g>
</g>
<g id="labels">
<text class="lb" x="130" y="399.5" textLength="139" lengthAdjust="spacingAndGlyphs">pages categories</text>
<text class="lb" x="131" y="424" textLength="83" lengthAdjust="spacingAndGlyphs">from data</text>
<text class="lb" x="405" y="399.5">Blondel et al.</text>
<text class="lb" x="405" y="424">community detection</text>
<text class="lb" x="685" y="399.5">Clauset et al.</text>
<text class="lb" x="685" y="424">community detection</text>
</g>
</svg>
